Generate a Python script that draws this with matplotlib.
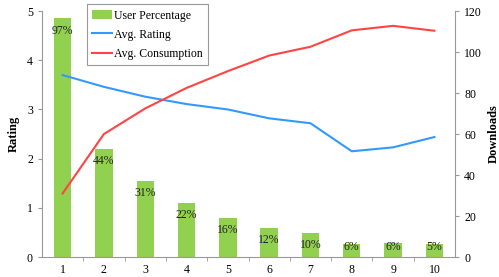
import matplotlib.pyplot as plt

# Data
groups = [1, 2, 3, 4, 5, 6, 7, 8, 9, 10]
user_pct = [97, 44, 31, 22, 16, 12, 9.6, 5.5, 5.6, 5.4]
pct_labels = ["97%", "44%", "31%", "22%", "16%", "12%", "10%", "6%", "6%", "5%"]
avg_rating = [3.70, 3.46, 3.26, 3.11, 3.00, 2.82, 2.72, 2.15, 2.23, 2.44]
avg_consumption = [31, 60, 72.5, 82.5, 90.7, 98.3, 102.6, 110.6, 112.8, 110.4]

GREEN = "#92D050"
BLUE = "#3399FF"
RED = "#FF4444"
GRAY = "#999999"

plt.rcParams['font.family'] = ['Liberation Serif', 'DejaVu Serif']
plt.rcParams['font.size'] = 9

fig = plt.figure(figsize=(4.99, 2.77), dpi=100)
rect = [0.084, 0.072, 0.828, 0.888]

# bars on a hidden 0-100% scale
ax_b = fig.add_axes(rect)
bars = ax_b.bar(groups, user_pct, width=0.42, color=GREEN, label="User Percentage")
ax_b.set_ylim(0, 100)
ax_b.set_xlim(0.5, 10.5)
ax_b.set_yticks([])
for g, v, lab in zip(groups, user_pct, pct_labels):
    ax_b.text(g, max(v - 4.9, 4.0), lab, ha='center', va='center', fontsize=8.5, color='#222222')

ax_b.set_xticks(groups)
ax_b.set_xticks([g + 0.5 for g in groups[:-1]], minor=True)
ax_b.tick_params(axis='x', which='major', length=0, pad=5, labelsize=8.5)
ax_b.tick_params(axis='x', which='minor', length=3, color=GRAY)
for s in ['top', 'left', 'right']:
    ax_b.spines[s].set_visible(False)
ax_b.spines['bottom'].set_color(GRAY)

# rating (left)
ax = ax_b.twinx()
ax.yaxis.tick_left()
ax.yaxis.set_label_position('left')
l1, = ax.plot(groups, avg_rating, color=BLUE, lw=1.5, label="Avg. Rating")
ax.set_ylim(0, 5)
ax.set_yticks([0, 1, 2, 3, 4, 5])
ax.set_ylabel("Rating", fontweight='bold', labelpad=5)
ax.tick_params(axis='y', length=3, color=GRAY, labelsize=8.5)
for s in ['top', 'right', 'bottom']:
    ax.spines[s].set_visible(False)
ax.spines['left'].set_color(GRAY)

# downloads (right)
ax_r = ax_b.twinx()
l2, = ax_r.plot(groups, avg_consumption, color=RED, lw=1.5, label="Avg. Consumption")
ax_r.set_ylim(0, 120)
ax_r.set_yticks(range(0, 121, 20))
ax_r.set_ylabel("Downloads", fontweight='bold', labelpad=4)
ax_r.tick_params(axis='y', length=3, color=GRAY, labelsize=8.5)
for s in ['top', 'left', 'bottom']:
    ax_r.spines[s].set_visible(False)
ax_r.spines['right'].set_color(GRAY)

leg = ax_r.legend([bars, l1, l2], ["User Percentage", "Avg. Rating", "Avg. Consumption"],
                  loc='upper left', bbox_to_anchor=(0.109, 1.028), borderaxespad=0,
                  fancybox=False, edgecolor=GRAY, fontsize=8.5, handlelength=1.7,
                  handletextpad=0.15, borderpad=0.45, labelspacing=0.6, framealpha=1)
leg.get_frame().set_linewidth(0.8)

fig.savefig("out.png", dpi=100)
